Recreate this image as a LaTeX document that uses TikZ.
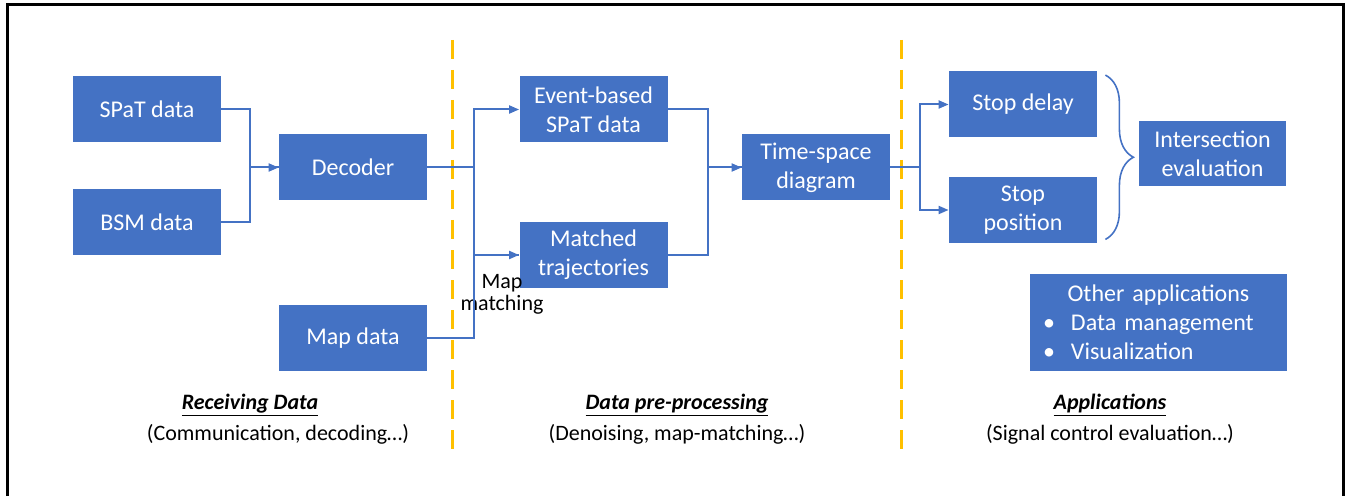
\documentclass[tikz,border=0pt]{standalone}
\usepackage{fontspec}
\setmainfont{Carlito}
\usetikzlibrary{positioning,arrows.meta,decorations.pathreplacing}

\definecolor{boxblue}{HTML}{4472C4}
\definecolor{divorange}{HTML}{FFC000}

\tikzset{
  box/.style={rectangle, fill=boxblue, text=white, minimum width=148pt, minimum height=66pt,
    align=center, inner sep=2pt, font=\fontsize{24}{29}\selectfont},
  link/.style={draw=boxblue, line width=2pt},
  arr/.style={link, -{Triangle[length=10pt,width=8pt]}},
  divider/.style={draw=divorange, line width=3pt, dash pattern=on 19pt off 11pt},
  caption/.style={align=center, font=\fontsize{22}{29}\selectfont}
}

\begin{document}
\begin{tikzpicture}[x=1pt, y=1pt, thick]
\useasboundingbox (0,0) rectangle (1346,496);
% frame
\draw [line width=3pt] (7,0) -- (7,491) -- (1343,491) -- (1343,0);

% Receiving data
\node (spat) [box] at (147,386.5) {SPaT data};
\node (bsm) [box, below of=spat, node distance=112.5pt] {BSM data};
\node (decoder) [box, right of=spat, node distance=206pt, yshift=-58pt] {Decoder};
\node (map) [box, below of=decoder, node distance=170.5pt] {Map data};

% Data pre-processing
\node (event) [box, right of=decoder, node distance=240.5pt, yshift=58pt] {Event-based\\SPaT data};
\node (matched) [box, below of=event, node distance=145.5pt] {Matched\\trajectories};
\node (tsd) [box, right of=decoder, node distance=463pt] {Time-space\\diagram};
\node (mmlabel) [right of=map, node distance=149pt, yshift=44pt, align=center,
  font=\fontsize{22}{22}\selectfont] {Map\\matching};

% Applications
\node (delay) [box, right of=tsd, node distance=207pt, yshift=63pt] {Stop delay};
\node (position) [box, below of=delay, node distance=105.5pt] {Stop\\position};
\node (inters) [box, right of=tsd, node distance=396.5pt, yshift=14pt, minimum width=147pt,
  minimum height=65pt] {Intersection\\evaluation};
\node (other) [box, below of=inters, node distance=169pt, xshift=-54pt, minimum width=257pt,
  minimum height=97pt, text width=231pt, inner xsep=13pt, align=left]
  {\makebox[231pt][c]{Other applications}\\
   \makebox[28pt][l]{\textbullet}Data management\\
   \makebox[28pt][l]{\textbullet}Visualization};

% section captions
\node (cap1) [caption] at (250,91) {\underline{\textbf{\textit{Receiving Data}}}};
\node (cap1b) [caption, below of=cap1, node distance=29pt, xshift=28pt] {(Communication, decoding…)};
\node (cap2) [caption] at (677,91) {\underline{\textbf{\textit{Data pre-processing}}}};
\node (cap2b) [caption, below of=cap2, node distance=29pt] {(Denoising, map-matching…)};
\node (cap3) [caption] at (1110,91) {\underline{\textbf{\textit{Applications}}}};
\node (cap3b) [caption, below of=cap3, node distance=29pt] {(Signal control evaluation…)};

% dividers
\coordinate (div1top) at (452,456);
\coordinate (div1bot) at (452,46);
\coordinate (div2top) at (901,456);
\coordinate (div2bot) at (901,46);
\draw [divider] (div1top) -- (div1bot);
\draw [divider] (div2top) -- (div2bot);

% connectors
\draw [arr] (spat.east) -- ++(29,0) |- (decoder.west);
\draw [link] (bsm.east) -- ++(29,0) |- (decoder.west);
\draw [arr] (decoder.east) -- ++(47,0) |- (event.west);
\draw [arr] (decoder.east) -- ++(47,0) |- (matched.west);
\draw [link] (map.east) -- ++(47,0) |- (matched.west);
\draw [arr] (event.east) -- ++(40,0) |- (tsd.west);
\draw [link] (matched.east) -- ++(40,0) |- (tsd.west);
\draw [arr] (tsd.east) -- ++(30,0) |- (delay.west);
\draw [arr] (tsd.east) -- ++(30,0) |- (position.west);
\draw [draw=boxblue, line width=1.6pt, decorate, decoration={brace, amplitude=28pt}]
  ([shift={(8pt,-4pt)}]delay.north east) -- ([shift={(8pt,4pt)}]position.south east);
\end{tikzpicture}
\end{document}
